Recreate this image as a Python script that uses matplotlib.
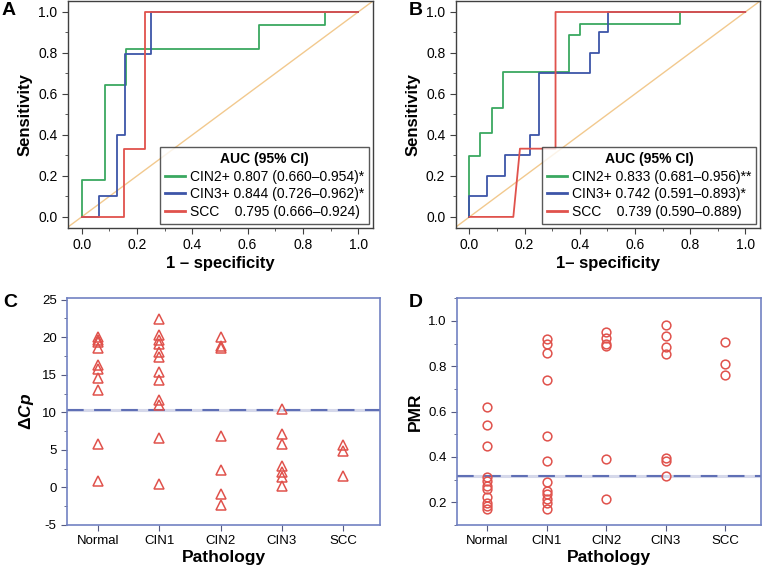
import matplotlib
matplotlib.use('Agg')
import matplotlib.pyplot as plt
from matplotlib.ticker import MultipleLocator

plt.rcParams['font.family'] = ['Liberation Sans', 'DejaVu Sans']
plt.rcParams['mathtext.fontset'] = 'custom'
plt.rcParams['mathtext.it'] = 'Liberation Sans:italic:bold'
plt.rcParams['mathtext.rm'] = 'Liberation Sans:bold'
plt.rcParams['mathtext.bf'] = 'Liberation Sans:bold'

# ---- ROC curves (1 - specificity, sensitivity) ----
a_cin2_x = [0, 0, 0.085, 0.085, 0.16, 0.16, 0.64, 0.64, 0.88, 0.88, 1.0]
a_cin2_y = [0, 0.178, 0.178, 0.645, 0.645, 0.818, 0.818, 0.937, 0.937, 1.0, 1.0]
a_cin3_x = [0, 0.063, 0.063, 0.127, 0.127, 0.157, 0.157, 0.25, 0.25, 1.0]
a_cin3_y = [0, 0, 0.1, 0.1, 0.4, 0.4, 0.797, 0.797, 1.0, 1.0]
a_scc_x = [0, 0.153, 0.153, 0.23, 0.23, 1.0]
a_scc_y = [0, 0, 0.333, 0.333, 1.0, 1.0]

b_cin2_x = [0, 0, 0.038, 0.038, 0.08, 0.08, 0.123, 0.123, 0.36, 0.36, 0.40, 0.40, 0.763, 0.763, 1.0]
b_cin2_y = [0, 0.295, 0.295, 0.41, 0.41, 0.53, 0.53, 0.708, 0.708, 0.887, 0.887, 0.943, 0.943, 1.0, 1.0]
b_cin3_x = [0, 0, 0.065, 0.065, 0.129, 0.129, 0.219, 0.219, 0.252, 0.252, 0.437, 0.437, 0.471, 0.471, 0.502, 0.502, 1.0]
b_cin3_y = [0, 0.1, 0.1, 0.2, 0.2, 0.3, 0.3, 0.4, 0.4, 0.7, 0.7, 0.8, 0.8, 0.9, 0.9, 1.0, 1.0]
b_scc_x = [0, 0.159, 0.183, 0.312, 0.312, 1.0]
b_scc_y = [0, 0, 0.333, 0.333, 1.0, 1.0]

a_labels = ['CIN2+ 0.807 (0.660\u20130.954)*',
            'CIN3+ 0.844 (0.726\u20130.962)*',
            'SCC    0.795 (0.666\u20130.924)']
b_labels = ['CIN2+ 0.833 (0.681\u20130.956)**',
            'CIN3+ 0.742 (0.591\u20130.893)*',
            'SCC    0.739 (0.590\u20130.889)']

# ---- scatter by pathology ----
groups = ['Normal', 'CIN1', 'CIN2', 'CIN3', 'SCC']
dcp = {
    'Normal': [20.0, 19.6, 19.3, 18.5, 16.3, 15.7, 14.6, 13.0, 5.8, 0.9],
    'CIN1': [22.4, 20.3, 19.6, 19.1, 18.0, 17.3, 15.4, 14.3, 11.6, 11.0, 6.6, 0.5],
    'CIN2': [20.0, 18.8, 18.6, 6.9, 2.3, -0.9, -2.4],
    'CIN3': [10.4, 7.1, 5.8, 2.9, 2.1, 1.4, 0.2],
    'SCC': [5.6, 4.9, 1.5],
}
pmr = {
    'Normal': [0.62, 0.54, 0.45, 0.31, 0.295, 0.27, 0.26, 0.225, 0.195, 0.185, 0.17],
    'CIN1': [0.92, 0.90, 0.86, 0.74, 0.49, 0.38, 0.29, 0.25, 0.235, 0.215, 0.195, 0.17],
    'CIN2': [0.95, 0.925, 0.90, 0.89, 0.39, 0.215],
    'CIN3': [0.98, 0.935, 0.885, 0.855, 0.395, 0.38, 0.315],
    'SCC': [0.905, 0.81, 0.76],
}
dcp_cut = 10.3
pmr_cut = 0.315

green = '#3aa860'
blue = '#3d55a8'
red = '#e0524c'
diag = '#f2c98e'
frame = '#7282c2'
pt_red = '#e0524c'

fig = plt.figure(figsize=(7.62, 5.68), dpi=100)


def roc_panel(rect, curves, labels, xlabel):
    ax = fig.add_axes(rect)
    ax.axline((0, 0), (1, 1), color=diag, lw=1.0, zorder=1)
    for (x, y), c, lab in zip(curves, [green, blue, red], labels):
        ax.plot(x, y, color=c, lw=1.3, label=lab, zorder=2)
    ax.set_xlim(-0.05, 1.055)
    ax.set_ylim(-0.053, 1.053)
    ax.xaxis.set_major_locator(MultipleLocator(0.2))
    ax.yaxis.set_major_locator(MultipleLocator(0.2))
    ax.xaxis.set_minor_locator(MultipleLocator(0.1))
    ax.yaxis.set_minor_locator(MultipleLocator(0.1))
    ax.xaxis.set_major_formatter(plt.FormatStrFormatter('%.1f'))
    ax.yaxis.set_major_formatter(plt.FormatStrFormatter('%.1f'))
    for s in ax.spines.values():
        s.set_color('#404040')
        s.set_linewidth(1.0)
    ax.tick_params(which='both', direction='out', color='#404040', labelsize=10)
    ax.tick_params(which='major', length=4)
    ax.tick_params(which='minor', length=2.5)
    ax.set_xlabel(xlabel, fontsize=12, fontweight='bold', labelpad=3)
    ax.set_ylabel('Sensitivity', fontsize=12, fontweight='bold', labelpad=4)
    leg = ax.legend(loc='lower right', title='AUC (95% CI)', fontsize=10,
                    title_fontproperties={'weight': 'bold', 'size': 10},
                    frameon=True, fancybox=False, edgecolor='#303030',
                    handlelength=1.4, handletextpad=0.4, borderaxespad=0.3,
                    labelspacing=0.25, borderpad=0.35)
    leg.get_frame().set_linewidth(1.0)
    for line in leg.get_lines():
        line.set_linewidth(2.0)
    return ax


def scatter_panel(rect, data, marker, ylim, major, minor, cut, ylabel, fmt):
    ax = fig.add_axes(rect)
    ax.axhline(cut, color='#d5d8ea', lw=2.2, zorder=1)
    ax.axhline(cut, color='#5f6fb5', lw=1.5, dashes=(8, 5), zorder=2)
    for i, g in enumerate(groups):
        ax.plot([i] * len(data[g]), data[g], linestyle='none', marker=marker,
                markersize=7 if marker == '^' else 6.3, markerfacecolor='none',
                markeredgecolor=pt_red, markeredgewidth=1.1, zorder=3)
    ax.set_xlim(-0.5, 4.6)
    ax.set_ylim(*ylim)
    ax.set_xticks(range(len(groups)))
    ax.set_xticklabels(groups)
    ax.yaxis.set_major_locator(MultipleLocator(major))
    ax.yaxis.set_minor_locator(MultipleLocator(minor))
    ax.yaxis.set_major_formatter(plt.FormatStrFormatter(fmt))
    for s in ax.spines.values():
        s.set_color(frame)
        s.set_linewidth(1.2)
    ax.tick_params(which='both', direction='out', color='#555a80', labelsize=9.5)
    ax.tick_params(which='major', length=4)
    ax.tick_params(which='minor', length=2.5)
    ax.set_xlabel('Pathology', fontsize=12.5, fontweight='bold', labelpad=2)
    ax.set_ylabel(ylabel, fontsize=12.5, fontweight='bold', labelpad=4)
    return ax


roc_panel([0.089, 0.599, 0.401, 0.399],
          [(a_cin2_x, a_cin2_y), (a_cin3_x, a_cin3_y), (a_scc_x, a_scc_y)],
          a_labels, '1 \u2013 specificity')
roc_panel([0.598, 0.599, 0.400, 0.399],
          [(b_cin2_x, b_cin2_y), (b_cin3_x, b_cin3_y), (b_scc_x, b_scc_y)],
          b_labels, '1\u2013 specificity')
scatter_panel([0.088, 0.076, 0.411, 0.399], dcp, '^', (-5, 25.2), 5, 2.5,
              dcp_cut, r'$\mathit{\Delta Cp}$', '%d')
scatter_panel([0.600, 0.076, 0.399, 0.399], pmr, 'o', (0.1, 1.1), 0.2, 0.1,
              pmr_cut, 'PMR', '%.1f')

for lab, x, y in [('A', 0.002, 0.997), ('B', 0.537, 0.997),
                  ('C', 0.004, 0.482), ('D', 0.537, 0.482)]:
    fig.text(x, y, lab, fontsize=14, fontweight='bold', ha='left', va='top')

fig.savefig('out.png', dpi=100)
